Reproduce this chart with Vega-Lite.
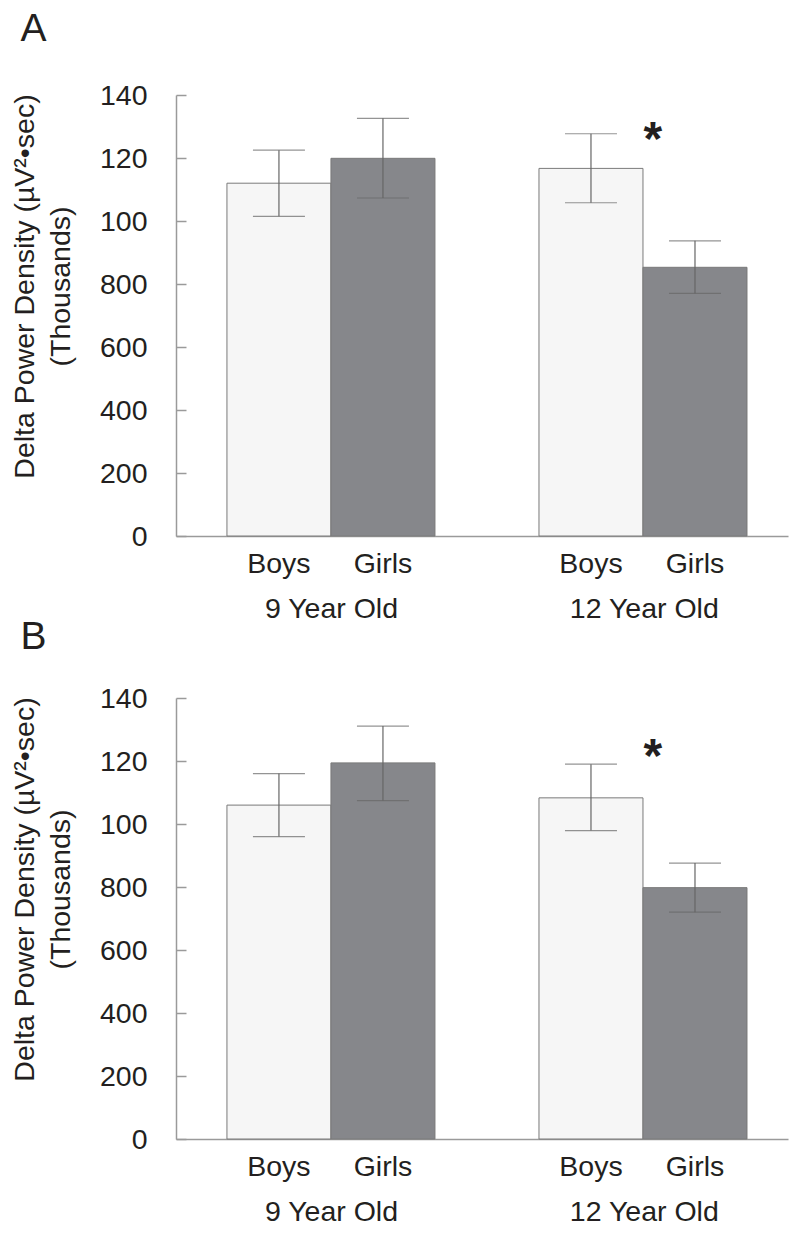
{
  "$schema": "https://vega.github.io/schema/vega-lite/v6.json",
  "background": "white",
  "padding": {"left": 10, "top": 10, "right": 5, "bottom": 5},
  "spacing": -5,
  "config": {
    "font": "Liberation Sans",
    "view": {"stroke": null},
    "axis": {
      "labelFont": "Liberation Sans", "titleFont": "Liberation Sans",
      "labelColor": "#231f20", "titleColor": "#231f20",
      "labelFontSize": 28.5, "titleFontSize": 28.5, "titleFontWeight": "normal",
      "grid": false, "domainColor": "#9a9a9a", "domainWidth": 1.5,
      "tickColor": "#9a9a9a", "tickWidth": 1.5
    },
    "title": {"fontSize": 39, "fontWeight": "normal", "color": "#231f20", "anchor": "start", "frame": "bounds", "font": "Liberation Sans"}
  },
  "datasets": {
    "bars": [
      {"panel": "A", "key": "9|Boys", "sex": "Boys", "mean": 1120, "lo": 1015, "hi": 1225},
      {"panel": "A", "key": "9|Girls", "sex": "Girls", "mean": 1199, "lo": 1073, "hi": 1326},
      {"panel": "A", "key": "12|Boys", "sex": "Boys", "mean": 1167, "lo": 1058, "hi": 1277},
      {"panel": "A", "key": "12|Girls", "sex": "Girls", "mean": 853, "lo": 770, "hi": 937},
      {"panel": "B", "key": "9|Boys", "sex": "Boys", "mean": 1060, "lo": 960, "hi": 1160},
      {"panel": "B", "key": "9|Girls", "sex": "Girls", "mean": 1194, "lo": 1074, "hi": 1311},
      {"panel": "B", "key": "12|Boys", "sex": "Boys", "mean": 1083, "lo": 979, "hi": 1190},
      {"panel": "B", "key": "12|Girls", "sex": "Girls", "mean": 798, "lo": 720, "hi": 876}
    ],
    "stars": [
      {"panel": "A", "age": "12 Year Old", "pos": 1283, "label": "*"},
      {"panel": "B", "age": "12 Year Old", "pos": 1238, "label": "*"}
    ]
  },
  "vconcat": [
    {
      "width": 612, "height": 441,
      "title": {"text": "A", "dx": 10, "offset": 32},
      "layer": [
        {
          "data": {"name": "bars"},
          "transform": [{"filter": "datum.panel == 'A'"}],
          "encoding": {
            "x": {"field": "key", "type": "nominal",
              "scale": {"domain": ["9|Boys", "9|Girls", "gap", "12|Boys", "12|Girls"], "paddingInner": 0, "paddingOuter": 0.442, "align": 0.554},
              "axis": {"title": null, "labelExpr": "datum.value == 'gap' ? '' : split(datum.value, '|')[1]", "labelAngle": 0, "ticks": false, "labelPadding": 13, "labelBaseline": "top"}}
          },
          "layer": [
            {
              "mark": {"type": "bar", "stroke": "#7a7a7a", "strokeWidth": 1},
              "encoding": {
                "y": {"field": "mean", "type": "quantitative",
                  "scale": {"domain": [0, 1400]},
                  "axis": {"title": ["Delta Power Density (µV²•sec)", "(Thousands)"], "values": [0, 200, 400, 600, 800, 1000, 1200, 1400],
                    "labelExpr": "datum.value >= 1000 ? format(datum.value / 10, 'd') : format(datum.value, 'd')",
                    "tickSize": -10, "labelPadding": 39, "titleLineHeight": 36, "titleY": 191, "titlePadding": 24}},
                "color": {"field": "sex", "type": "nominal", "scale": {"domain": ["Boys", "Girls"], "range": ["#f6f6f6", "#86878b"]}, "legend": null}
              }
            },
            {
              "mark": {"type": "rule", "color": "#666666", "strokeWidth": 1.2},
              "encoding": {
                "y": {"field": "lo", "type": "quantitative"},
                "y2": {"field": "hi"}
              }
            },
            {
              "mark": {"type": "tick", "color": "#666666", "size": 52, "thickness": 1.2},
              "encoding": {"y": {"field": "hi", "type": "quantitative"}}
            },
            {
              "mark": {"type": "tick", "color": "#666666", "size": 52, "thickness": 1.2},
              "encoding": {"y": {"field": "lo", "type": "quantitative"}}
            }
          ]
        },
        {
          "data": {"name": "stars"},
          "transform": [{"filter": "datum.panel == 'A'"}],
          "mark": {"type": "text", "fontSize": 48, "fontWeight": "bold", "dx": 9, "dy": 9, "baseline": "middle", "color": "#231f20"},
          "encoding": {
            "x": {"field": "age", "type": "nominal",
              "scale": {"type": "point", "domain": ["9 Year Old", "12 Year Old"], "padding": 0.478, "align": 0.518},
              "axis": {"orient": "bottom", "title": null, "domain": false, "ticks": false, "labelAngle": 0, "labelPadding": 58, "labelBaseline": "top"}},
            "y": {"field": "pos", "type": "quantitative"},
            "text": {"field": "label"}
          }
        }
      ],
      "resolve": {"scale": {"x": "independent"}}
    },
    {
      "width": 612, "height": 441,
      "title": {"text": "B", "dx": 10, "offset": 27},
      "layer": [
        {
          "data": {"name": "bars"},
          "transform": [{"filter": "datum.panel == 'B'"}],
          "encoding": {
            "x": {"field": "key", "type": "nominal",
              "scale": {"domain": ["9|Boys", "9|Girls", "gap", "12|Boys", "12|Girls"], "paddingInner": 0, "paddingOuter": 0.442, "align": 0.554},
              "axis": {"title": null, "labelExpr": "datum.value == 'gap' ? '' : split(datum.value, '|')[1]", "labelAngle": 0, "ticks": false, "labelPadding": 13, "labelBaseline": "top"}}
          },
          "layer": [
            {
              "mark": {"type": "bar", "stroke": "#7a7a7a", "strokeWidth": 1},
              "encoding": {
                "y": {"field": "mean", "type": "quantitative",
                  "scale": {"domain": [0, 1400]},
                  "axis": {"title": ["Delta Power Density (µV²•sec)", "(Thousands)"], "values": [0, 200, 400, 600, 800, 1000, 1200, 1400],
                    "labelExpr": "datum.value >= 1000 ? format(datum.value / 10, 'd') : format(datum.value, 'd')",
                    "tickSize": -10, "labelPadding": 39, "titleLineHeight": 36, "titleY": 191, "titlePadding": 24}},
                "color": {"field": "sex", "type": "nominal", "scale": {"domain": ["Boys", "Girls"], "range": ["#f6f6f6", "#86878b"]}, "legend": null}
              }
            },
            {
              "mark": {"type": "rule", "color": "#666666", "strokeWidth": 1.2},
              "encoding": {
                "y": {"field": "lo", "type": "quantitative"},
                "y2": {"field": "hi"}
              }
            },
            {
              "mark": {"type": "tick", "color": "#666666", "size": 52, "thickness": 1.2},
              "encoding": {"y": {"field": "hi", "type": "quantitative"}}
            },
            {
              "mark": {"type": "tick", "color": "#666666", "size": 52, "thickness": 1.2},
              "encoding": {"y": {"field": "lo", "type": "quantitative"}}
            }
          ]
        },
        {
          "data": {"name": "stars"},
          "transform": [{"filter": "datum.panel == 'B'"}],
          "mark": {"type": "text", "fontSize": 48, "fontWeight": "bold", "dx": 9, "dy": 9, "baseline": "middle", "color": "#231f20"},
          "encoding": {
            "x": {"field": "age", "type": "nominal",
              "scale": {"type": "point", "domain": ["9 Year Old", "12 Year Old"], "padding": 0.478, "align": 0.518},
              "axis": {"orient": "bottom", "title": null, "domain": false, "ticks": false, "labelAngle": 0, "labelPadding": 58, "labelBaseline": "top"}},
            "y": {"field": "pos", "type": "quantitative"},
            "text": {"field": "label"}
          }
        }
      ],
      "resolve": {"scale": {"x": "independent"}}
    }
  ]
}
